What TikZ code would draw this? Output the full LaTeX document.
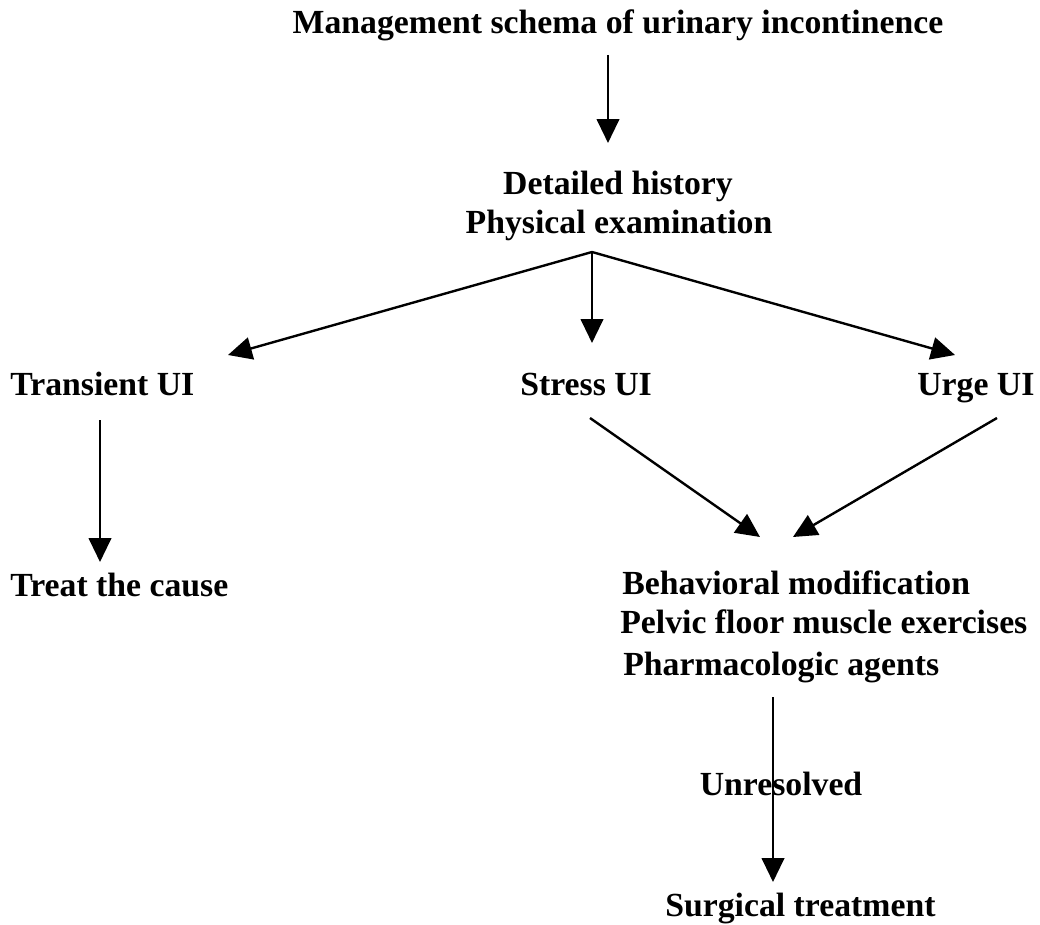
\documentclass[tikz,border=0pt]{standalone}
\usepackage{fontspec}
\setmainfont{Liberation Serif}
\usetikzlibrary{arrows.meta}
\begin{document}
\begin{tikzpicture}[x=0.025cm,y=-0.025cm,
  lbl/.style={font=\fontsize{24}{28}\selectfont\bfseries, inner sep=0pt, anchor=base},
  lblw/.style={lbl, anchor=base west},
  arr/.style={line width=1.7pt, -{Triangle[width=16pt,length=17pt]}}]
  \useasboundingbox (0,0) rectangle (1040,925);

  % texts
  \node[lbl] (title) at (618,34) {Management schema of urinary incontinence};
  \node[lbl] (hist) at (618,195) {Detailed history};
  \node[lbl] (phys) at (619,234) {Physical examination};
  \node[lblw] (trans) at (10,396) {Transient UI};
  \node[lblw] (stress) at (520,396) {Stress UI};
  \node[lblw] (urge) at (917,396) {Urge UI};
  \node[lblw] (treat) at (10,596) {Treat the cause};
  \node[lblw] (behav) at (622,594) {Behavioral modification};
  \node[lblw] (pelvic) at (620,633) {Pelvic floor muscle exercises};
  \node[lblw] (pharm) at (623,675) {Pharmacologic agents};
  \node[lbl] (unres) at (781,795) {Unresolved};
  \node[lblw] (surg) at (665,916) {Surgical treatment};

  % connector end points
  \coordinate (t0) at (608,55);   \coordinate (t1) at (608,143);
  \coordinate (fan) at (592,252);
  \coordinate (a1) at (228,355);  \coordinate (a2) at (592,343);  \coordinate (a3) at (955,355);
  \coordinate (c0) at (100,420);  \coordinate (c1) at (100,562);
  \coordinate (s0) at (590,418);  \coordinate (s1) at (760,537);
  \coordinate (u0) at (997,418);  \coordinate (u1) at (793,537);
  \coordinate (p0) at (773,697);  \coordinate (p1) at (773,882);

  % connectors
  \draw[arr] (t0) -- (t1);
  \draw[arr] (fan) -- (a1);
  \draw[arr] (fan) -- (a2);
  \draw[arr] (fan) -- (a3);
  \draw[arr] (c0) -- (c1);
  \draw[arr] (s0) -- (s1);
  \draw[arr] (u0) -- (u1);
  \draw[arr] (p0) -- (p1);
\end{tikzpicture}
\end{document}
